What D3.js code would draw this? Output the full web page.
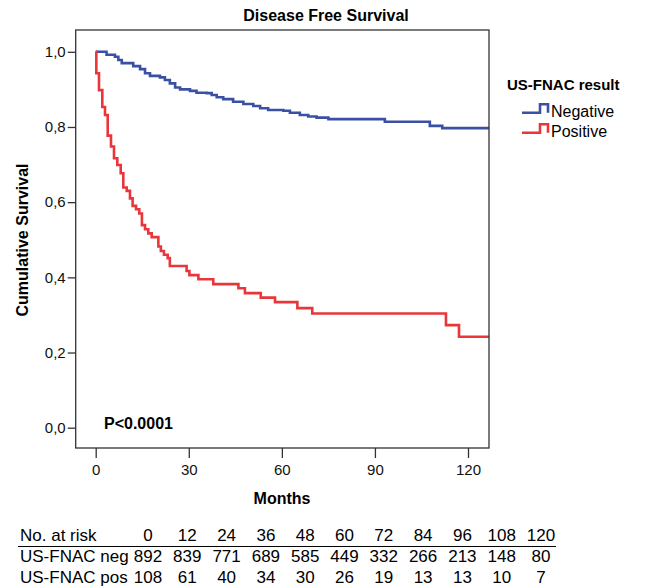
<!DOCTYPE html>
<html><head><meta charset="utf-8">
<script src="https://cdn.jsdelivr.net/npm/d3@7"></script>
<style>body{margin:0;background:#fff}svg text{font-family:"Liberation Sans",Arial,sans-serif}</style>
</head><body><svg id="c" width="645" height="586"></svg>
<script>
// Kaplan-Meier step data: [months, survival]
const negTimes = [0,3.5,6.2,7.3,8.4,12.1,14.3,15.9,17.5,20.7,22.3,23.9,25.6,27.2,30.4,32.5,35.8,37.4,39.0,41.1,44.3,47.6,50.8,53.0,55.6,60.5,62.6,65.8,68.5,71.2,75.0,93.2,107.7,111.7,126.8];
const negSurv  = [1.0,0.992,0.987,0.978,0.970,0.962,0.954,0.943,0.936,0.932,0.925,0.916,0.905,0.900,0.896,0.891,0.890,0.885,0.879,0.874,0.867,0.861,0.856,0.850,0.845,0.843,0.838,0.832,0.828,0.825,0.821,0.814,0.803,0.797,0.797];
const posTimes = [0,0.2,1.06,2.13,3.0,3.87,4.93,5.9,6.96,8.06,8.9,10.0,11.05,11.9,13.0,14.05,14.9,15.9,16.95,18.05,20.2,21.0,22.0,23.2,23.9,29.3,30.2,33.1,37.9,46.0,48.1,53.2,57.8,65.0,69.8,112.9,117.1,126.8];
const posSurv  = [1.0,0.943,0.898,0.853,0.832,0.777,0.748,0.717,0.699,0.677,0.639,0.630,0.610,0.590,0.581,0.570,0.539,0.528,0.517,0.507,0.482,0.470,0.460,0.451,0.430,0.417,0.406,0.395,0.382,0.371,0.358,0.346,0.334,0.318,0.304,0.273,0.242,0.242];
const xTicks = [0,30,60,90,120];
const yTicks = [0,0.2,0.4,0.6,0.8,1.0];
const seriesNames = ["Negative","Positive"];
const seriesColors = ["#3a51a3","#e8363b"];
const riskTimes = [0,12,24,36,48,60,72,84,96,108,120];
const riskNeg = [892,839,771,689,585,449,332,266,213,148,80];
const riskPos = [108,61,40,34,30,26,19,13,13,10,7];
const riskLabels = ["No. at risk","US-FNAC neg","US-FNAC pos"];

const svg = d3.select("#c");
const L=75.7,R=489,T=30,B=448;
const x = d3.scaleLinear().domain([0,120]).range([95.7,468]);
const y = d3.scaleLinear().domain([0,1]).range([427.7,51.8]);

svg.append("text").attr("x",326).attr("y",21).attr("text-anchor","middle")
  .attr("font-size",16).attr("font-weight","bold").text("Disease Free Survival");

// curves
const line = d3.line().x(d=>x(d[0])).y(d=>y(d[1])).curve(d3.curveStepAfter);
const series = [d3.zip(negTimes,negSurv), d3.zip(posTimes,posSurv)];
series.forEach((s,i)=>{
  svg.append("path").attr("d",line(s)).attr("fill","none")
    .attr("stroke",seriesColors[i]).attr("stroke-width",2.6);
});

// frame
svg.append("rect").attr("x",L).attr("y",T).attr("width",R-L).attr("height",B-T)
  .attr("fill","none").attr("stroke","#333").attr("stroke-width",1.3);

// axes
const xa = svg.append("g").attr("transform",`translate(0,${B})`)
  .call(d3.axisBottom(x).tickValues(xTicks).tickSize(10).tickPadding(6));
const ya = svg.append("g").attr("transform",`translate(${L},0)`)
  .call(d3.axisLeft(y).tickValues(yTicks).tickSize(8).tickPadding(2)
    .tickFormat(d=>d3.format(".1f")(d).replace(".",",")));
[xa,ya].forEach(a=>{
  a.select(".domain").remove();
  a.selectAll(".tick line").attr("stroke","#333").attr("stroke-width",1.3);
  a.selectAll(".tick text").attr("font-size",15).attr("fill","#111")
   .attr("font-family","'Liberation Sans',Arial,sans-serif");
});

svg.append("text").attr("x",282).attr("y",504).attr("text-anchor","middle")
  .attr("font-size",16).attr("font-weight","bold").text("Months");
svg.append("text").attr("transform","translate(28,240) rotate(-90)").attr("text-anchor","middle")
  .attr("font-size",16).attr("font-weight","bold").text("Cumulative Survival");
svg.append("text").attr("x",104).attr("y",429)
  .attr("font-size",16).attr("font-weight","bold").text("P<0.0001");

// legend
svg.append("text").attr("x",507).attr("y",90).attr("font-size",15).attr("font-weight","bold").text("US-FNAC result");
seriesNames.forEach((n,i)=>{
  const yl = 112.7 + i*20, yh = yl-8.5;
  svg.append("path").attr("d",`M522,${yl}H540V${yh}H548V${yl}`).attr("fill","none")
    .attr("stroke",seriesColors[i]).attr("stroke-width",2.6);
  svg.append("text").attr("x",551).attr("y",117+i*20).attr("font-size",16).text(n);
});

// risk table
const cx = d3.scalePoint().domain(riskTimes).range([148,541]);
const rowY = [541,562,583];
const tf = "'Liberation Sans Narrow','Liberation Sans',Arial,sans-serif";
svg.append("line").attr("x1",18).attr("x2",556).attr("y1",546.5).attr("y2",546.5).attr("stroke","#000").attr("stroke-width",1);
[null,riskNeg,riskPos].forEach((row,r)=>{
  svg.append("text").attr("x",20).attr("y",rowY[r]).attr("font-size",17).attr("font-family",tf).text(riskLabels[r]);
  const vals = row || riskTimes;
  vals.forEach((v,j)=>{
    svg.append("text").attr("x",cx(riskTimes[j])).attr("y",rowY[r]).attr("text-anchor","middle")
      .attr("font-size",17).attr("font-family",tf).text(v);
  });
});
</script></body></html>
